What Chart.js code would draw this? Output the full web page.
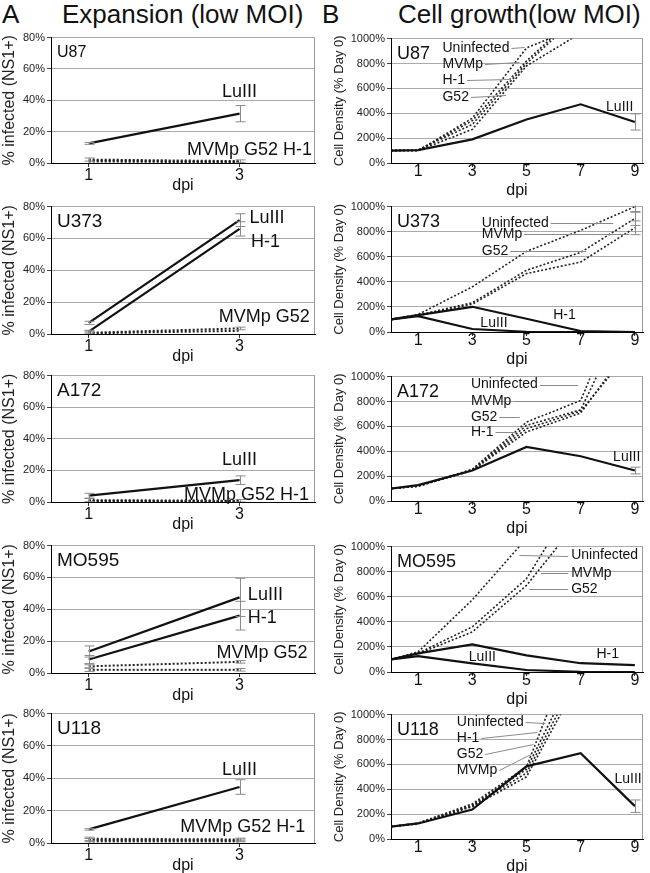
<!DOCTYPE html>
<html>
<head>
<meta charset="utf-8">
<script src="https://cdn.jsdelivr.net/npm/chart.js"></script>
<style>
  body { margin: 0; background: #fff; width: 650px; height: 873px; position: relative; overflow: hidden;
         font-family: "Liberation Sans", Arial, sans-serif; }
  canvas { position: absolute; }
  .head { position: absolute; font-size: 26px; line-height: 26px; color: #111; white-space: nowrap; }
</style>
</head>
<body>
<div class="head" style="left:2px;top:1px">A</div>
<div class="head" style="left:62px;top:1px">Expansion (low MOI)</div>
<div class="head" style="left:322px;top:1px">B</div>
<div class="head" style="left:398px;top:1px">Cell growth(low MOI)</div>
<script>
// x values and tick labels
const infDays = [1, 3];
const growDays = [0, 1, 3, 5, 7, 9];
const infXTicks = [1, 3];
const growXTicks = [1, 3, 5, 7, 9];
const infYTicks = [0, 20, 40, 60, 80];
const growYTicks = [0, 200, 400, 600, 800, 1000];

// A: % infected (NS1+), days 1 and 3
const u87InfLuIII = [12.5, 31.5], u87InfLuIIIErr = [0.6, 5.2];
const u87InfMVMp = [2.2, 1.2], u87InfG52 = [1.6, 0.8], u87InfH1 = [1.0, 0.4];
const u373InfLuIII = [7, 71.5], u373InfLuIIIErr = [1, 4];
const u373InfH1 = [1.5, 66], u373InfH1Err = [0.8, 4.5];
const u373InfMVMp = [0.8, 3.5], u373InfG52 = [0.4, 2];
const a172InfLuIII = [4, 13.8], a172InfLuIIIErr = [1.5, 2.7];
const a172InfMVMp = [1.2, 0.8], a172InfG52 = [0.8, 0.5], a172InfH1 = [0.5, 0.3];
const mo595InfLuIII = [13.5, 47.5], mo595InfLuIIIErr = [3.5, 12];
const mo595InfH1 = [8.5, 36], mo595InfH1Err = [2.5, 9];
const mo595InfMVMp = [4.2, 7], mo595InfG52 = [2, 2];
const u118InfLuIII = [8.4, 34.6], u118InfLuIIIErr = [0.5, 4.5];
const u118InfMVMp = [2.6, 2.2], u118InfG52 = [1.8, 1.6], u118InfH1 = [1.0, 1.0];
const smallErr = [1, 0.8];

// B: cell density (% of day 0), days 0..9
const u87GrowLuIII = [100, 104, 190, 350, 472, 330], u87GrowLuIIIErr = [0, 0, 0, 0, 0, 65];
const u87GrowUninf = [100, 100, 360, 925, 1100, 1280];
const u87GrowMVMp = [100, 100, 340, 820, 1220, 1440];
const u87GrowH1 = [100, 105, 310, 800, 1200, 1400];
const u87GrowG52 = [100, 100, 270, 780, 1044, 1300];

const u373GrowLuIII = [100, 127, 24, 2, 0, 0];
const u373GrowH1 = [100, 135, 201, 106, 8, 0];
const u373GrowUninf = [100, 140, 360, 643, 810, 1000], u373GrowUninfErr = [0, 0, 0, 0, 0, 45];
const u373GrowMVMp = [100, 135, 233, 492, 635, 905], u373GrowMVMpErr = [0, 0, 0, 0, 0, 55];
const u373GrowG52 = [100, 130, 222, 466, 558, 831], u373GrowG52Err = [0, 0, 0, 0, 0, 55];

const a172GrowLuIII = [100, 128, 245, 435, 360, 245], a172GrowLuIIIErr = [0, 0, 0, 0, 0, 27];
const a172GrowUninf = [100, 120, 255, 634, 808, 1850];
const a172GrowMVMp = [100, 122, 250, 608, 733, 1640];
const a172GrowG52 = [100, 118, 248, 581, 723, 1250];
const a172GrowH1 = [100, 120, 245, 555, 707, 1300];

const mo595GrowLuIII = [100, 127, 69, 16, 2, 0];
const mo595GrowH1 = [100, 148, 220, 132, 70, 55];
const mo595GrowUninf = [100, 160, 575, 1065, 1555, 2000];
const mo595GrowMVMp = [100, 150, 360, 744, 1444, 1900];
const mo595GrowG52 = [100, 145, 320, 690, 1230, 1700];

const u118GrowLuIII = [100, 125, 237, 584, 690, 264], u118GrowLuIIIErr = [0, 0, 0, 0, 0, 50];
const u118GrowUninf = [100, 128, 282, 580, 1690, 2500];
const u118GrowH1 = [100, 126, 272, 560, 1440, 2200];
const u118GrowG52 = [100, 124, 266, 530, 1360, 2100];
const u118GrowMVMp = [100, 122, 260, 500, 1300, 2000];

const FONT = '"Liberation Sans", Arial, sans-serif';

// plot area placement (pixels on the page)
const infTop = [37, 206, 375, 545, 713], infBottom = [163, 334, 502, 673, 843];
const growTop = [38, 206, 376, 546, 714], growBottom = [163, 332, 501, 672, 839];

function decoPlugin(p) {
  return {
    id: 'deco',
    beforeDatasetsDraw(chart) {
      const { ctx, chartArea: a } = chart;
      ctx.save();
      ctx.strokeStyle = '#999';
      ctx.lineWidth = 1;
      ctx.beginPath();
      ctx.moveTo(a.right - 0.5, a.top);
      ctx.lineTo(a.right - 0.5, a.bottom);
      ctx.stroke();
      ctx.restore();
    },
    afterDatasetsDraw(chart) {
      const { ctx, chartArea: a, scales: { x, y } } = chart;
      ctx.save();
      ctx.beginPath();
      ctx.rect(a.left, a.top - 1, a.right - a.left, a.bottom - a.top + 1);
      ctx.clip();
      // error bars
      ctx.strokeStyle = '#8a8a8a';
      ctx.lineWidth = 1;
      chart.data.datasets.forEach(ds => {
        if (!ds.err) return;
        ds.data.forEach((pt, i) => {
          const e = ds.err[i];
          if (!e) return;
          const px = Math.round(x.getPixelForValue(pt.x)) + 0.5;
          const y1 = y.getPixelForValue(pt.y + e);
          const y2 = y.getPixelForValue(Math.max(0, pt.y - e));
          ctx.beginPath();
          ctx.moveTo(px, y1); ctx.lineTo(px, y2);
          ctx.moveTo(px - 5, y1); ctx.lineTo(px + 5, y1);
          ctx.moveTo(px - 5, y2); ctx.lineTo(px + 5, y2);
          ctx.stroke();
        });
      });
      ctx.restore();

      ctx.save();
      ctx.textBaseline = 'middle';
      ctx.fillStyle = '#111';
      // panel name
      ctx.font = p.nameSize + 'px ' + FONT;
      ctx.textAlign = 'left';
      ctx.fillText(p.name, a.left + 6, a.top + 15);
      // series labels and leader lines
      ctx.font = p.labelSize + 'px ' + FONT;
      p.labels.forEach(l => {
        const lx = x.getPixelForValue(l.x), ly = y.getPixelForValue(l.y);
        ctx.textAlign = l.align;
        ctx.fillText(l.text, lx, ly);
        if (l.to) {
          const w = ctx.measureText(l.text).width;
          const tx = x.getPixelForValue(l.to[0]), ty = y.getPixelForValue(l.to[1]);
          const sx = tx > lx ? lx + w + 2 : lx - 3;
          ctx.strokeStyle = '#8a8a8a';
          ctx.lineWidth = 1;
          ctx.beginPath();
          ctx.moveTo(sx, Math.round(ly) + 0.5);
          ctx.lineTo(tx, Math.round(ty) + 0.5);
          ctx.stroke();
        }
      });
      ctx.restore();
    }
  };
}

function makeChart(p) {
  const cv = document.createElement('canvas');
  const padTop = 8;
  const h = padTop + (p.bottom - p.top) + p.xh;
  cv.width = p.w; cv.height = h;
  cv.style.left = p.left + 'px';
  cv.style.top = (p.top - padTop) + 'px';
  cv.style.width = p.w + 'px';
  cv.style.height = h + 'px';
  document.body.appendChild(cv);

  new Chart(cv, {
    type: 'line',
    data: {
      datasets: p.series.map(s => ({
        label: s.label,
        data: p.days.map((d, i) => ({ x: d, y: s.values[i] })),
        err: s.err,
        borderColor: s.solid ? '#111' : '#222',
        borderWidth: s.solid ? 2.2 : p.dotWidth,
        borderDash: s.solid ? [] : [2, 2],
        pointRadius: 0,
        tension: 0,
        fill: false
      }))
    },
    options: {
      responsive: false,
      animation: false,
      devicePixelRatio: 1,
      layout: { padding: { top: padTop, right: p.padRight, left: 0, bottom: 0 } },
      plugins: { legend: { display: false }, tooltip: { enabled: false } },
      scales: {
        x: {
          type: 'linear', min: p.xMin, max: p.xMax,
          afterBuildTicks: s => { s.ticks = p.xTicks.map(v => ({ value: v })); },
          afterFit: s => { s.height = p.xh; },
          ticks: { font: { family: FONT, size: 16, lineHeight: 1 }, color: '#111', padding: p.xTickPad,
                   callback: v => String(v) },
          grid: { drawOnChartArea: false, drawTicks: true, tickLength: 4, tickColor: '#333' },
          border: { color: '#000', width: 1 },
          title: { display: true, text: 'dpi', font: { family: FONT, size: 16 }, color: '#111',
                   padding: { top: 0, bottom: 0 } }
        },
        y: {
          min: 0, max: p.yTicks[p.yTicks.length - 1],
          afterBuildTicks: s => { s.ticks = p.yTicks.map(v => ({ value: v })); },
          afterFit: s => { s.width = p.yw; },
          ticks: { font: { family: FONT, size: 11 }, color: '#222', padding: 2, callback: v => v + '%' },
          grid: { color: '#aaa', lineWidth: 1, tickColor: '#444', tickLength: 4 },
          border: { color: '#000', width: 1 },
          title: { display: true, text: p.yTitle, font: { family: FONT, size: p.yTitleSize }, color: '#222',
                   padding: { top: p.yTitlePad, bottom: 0 } }
        }
      }
    },
    plugins: [decoPlugin(p)]
  });
}

function infPanel(r, name, nameSize, series, labels) {
  makeChart({
    left: 0, w: 325, top: infTop[r], bottom: infBottom[r], xh: 32, yw: 51, padRight: 10,
    xMin: 0.5, xMax: 4.0, days: infDays, xTicks: infXTicks, yTicks: infYTicks, xTickPad: 1,
    yTitle: '% infected (NS1+)', yTitleSize: 16, yTitlePad: 0, dotWidth: 2,
    name, nameSize, labelSize: 18, series, labels
  });
}

function growPanel(r, name, series, labels) {
  makeChart({
    left: 325, w: 325, top: growTop[r], bottom: growBottom[r], xh: 37, yw: 66, padRight: 7,
    xMin: 0, xMax: 9.3, days: growDays, xTicks: growXTicks, yTicks: growYTicks, xTickPad: -3,
    yTitle: 'Cell Density (% Day 0)', yTitleSize: 13, yTitlePad: 7, dotWidth: 1.6,
    name, nameSize: 18, labelSize: 14, series, labels
  });
}

// Row 1: U87
infPanel(0, 'U87', 16, [
  { label: 'LuIII', values: u87InfLuIII, err: u87InfLuIIIErr, solid: true },
  { label: 'MVMp', values: u87InfMVMp, err: smallErr },
  { label: 'G52', values: u87InfG52 },
  { label: 'H-1', values: u87InfH1 }
], [
  { text: 'LuIII', x: 3.0, y: 45, align: 'center' },
  { text: 'MVMp G52 H-1', x: 3.96, y: 8.3, align: 'right' }
]);
growPanel(0, 'U87', [
  { label: 'LuIII', values: u87GrowLuIII, err: u87GrowLuIIIErr, solid: true },
  { label: 'Uninfected', values: u87GrowUninf },
  { label: 'MVMp', values: u87GrowMVMp },
  { label: 'H-1', values: u87GrowH1 },
  { label: 'G52', values: u87GrowG52 }
], [
  { text: 'Uninfected', x: 1.9, y: 925, align: 'left', to: [4.93, 930] },
  { text: 'MVMp', x: 1.9, y: 797, align: 'left', to: [4.74, 810] },
  { text: 'H-1', x: 1.9, y: 664, align: 'left', to: [4.43, 677] },
  { text: 'G52', x: 1.9, y: 530, align: 'left', to: [4.25, 544] },
  { text: 'LuIII', x: 8.44, y: 446, align: 'center' }
]);

// Row 2: U373
infPanel(1, 'U373', 19, [
  { label: 'LuIII', values: u373InfLuIII, err: u373InfLuIIIErr, solid: true },
  { label: 'H-1', values: u373InfH1, err: u373InfH1Err, solid: true },
  { label: 'MVMp', values: u373InfMVMp, err: smallErr },
  { label: 'G52', values: u373InfG52 }
], [
  { text: 'LuIII', x: 3.13, y: 73, align: 'left' },
  { text: 'H-1', x: 3.15, y: 57.7, align: 'left' },
  { text: 'MVMp G52', x: 3.93, y: 10.8, align: 'right' }
]);
growPanel(1, 'U373', [
  { label: 'LuIII', values: u373GrowLuIII, solid: true },
  { label: 'H-1', values: u373GrowH1, solid: true },
  { label: 'Uninfected', values: u373GrowUninf, err: u373GrowUninfErr },
  { label: 'MVMp', values: u373GrowMVMp, err: u373GrowMVMpErr },
  { label: 'G52', values: u373GrowG52, err: u373GrowG52Err }
], [
  { text: 'Uninfected', x: 3.35, y: 872, align: 'left', to: [8.2, 872] },
  { text: 'MVMp', x: 3.35, y: 778, align: 'left', to: [8.8, 778] },
  { text: 'G52', x: 3.35, y: 648, align: 'left', to: [7.2, 648] },
  { text: 'LuIII', x: 3.8, y: 71, align: 'center' },
  { text: 'H-1', x: 6.4, y: 135, align: 'center' }
]);

// Row 3: A172
infPanel(2, 'A172', 19, [
  { label: 'LuIII', values: a172InfLuIII, err: a172InfLuIIIErr, solid: true },
  { label: 'MVMp', values: a172InfMVMp, err: smallErr },
  { label: 'G52', values: a172InfG52 },
  { label: 'H-1', values: a172InfH1 }
], [
  { text: 'LuIII', x: 3.0, y: 26.5, align: 'center' },
  { text: 'MVMp G52 H-1', x: 3.92, y: 4.4, align: 'right' }
]);
growPanel(2, 'A172', [
  { label: 'LuIII', values: a172GrowLuIII, err: a172GrowLuIIIErr, solid: true },
  { label: 'Uninfected', values: a172GrowUninf },
  { label: 'MVMp', values: a172GrowMVMp },
  { label: 'G52', values: a172GrowG52 },
  { label: 'H-1', values: a172GrowH1 }
], [
  { text: 'Uninfected', x: 2.95, y: 936, align: 'left', to: [6.9, 936] },
  { text: 'MVMp', x: 2.95, y: 802, align: 'left', to: [6.85, 802] },
  { text: 'G52', x: 2.95, y: 674, align: 'left', to: [4.75, 674] },
  { text: 'H-1', x: 2.95, y: 554, align: 'left', to: [4.55, 554] },
  { text: 'LuIII', x: 8.7, y: 354, align: 'center' }
]);

// Row 4: MO595
infPanel(3, 'MO595', 19, [
  { label: 'LuIII', values: mo595InfLuIII, err: mo595InfLuIIIErr, solid: true },
  { label: 'H-1', values: mo595InfH1, err: mo595InfH1Err, solid: true },
  { label: 'MVMp', values: mo595InfMVMp, err: smallErr },
  { label: 'G52', values: mo595InfG52, err: smallErr }
], [
  { text: 'LuIII', x: 3.11, y: 48.8, align: 'left' },
  { text: 'H-1', x: 3.11, y: 34.8, align: 'left' },
  { text: 'MVMp G52', x: 3.9, y: 12.7, align: 'right' }
]);
growPanel(3, 'MO595', [
  { label: 'LuIII', values: mo595GrowLuIII, solid: true },
  { label: 'H-1', values: mo595GrowH1, solid: true },
  { label: 'Uninfected', values: mo595GrowUninf },
  { label: 'MVMp', values: mo595GrowMVMp },
  { label: 'G52', values: mo595GrowG52 }
], [
  { text: 'Uninfected', x: 6.65, y: 929, align: 'left', to: [4.74, 930] },
  { text: 'MVMp', x: 6.65, y: 786, align: 'left', to: [5.54, 786] },
  { text: 'G52', x: 6.65, y: 662, align: 'left', to: [5.1, 662] },
  { text: 'LuIII', x: 3.37, y: 121, align: 'center' },
  { text: 'H-1', x: 8.0, y: 143, align: 'center' }
]);

// Row 5: U118
infPanel(4, 'U118', 19, [
  { label: 'LuIII', values: u118InfLuIII, err: u118InfLuIIIErr, solid: true },
  { label: 'MVMp', values: u118InfMVMp, err: smallErr },
  { label: 'G52', values: u118InfG52, err: smallErr },
  { label: 'H-1', values: u118InfH1 }
], [
  { text: 'LuIII', x: 3.0, y: 45.3, align: 'center' },
  { text: 'MVMp G52 H-1', x: 3.87, y: 10, align: 'right' }
]);
growPanel(4, 'U118', [
  { label: 'LuIII', values: u118GrowLuIII, err: u118GrowLuIIIErr, solid: true },
  { label: 'Uninfected', values: u118GrowUninf },
  { label: 'H-1', values: u118GrowH1 },
  { label: 'G52', values: u118GrowG52 },
  { label: 'MVMp', values: u118GrowMVMp }
], [
  { text: 'Uninfected', x: 2.43, y: 938, align: 'left', to: [5.7, 935] },
  { text: 'H-1', x: 2.43, y: 814, align: 'left', to: [5.4, 858] },
  { text: 'G52', x: 2.43, y: 686, align: 'left', to: [5.26, 765] },
  { text: 'MVMp', x: 2.43, y: 552, align: 'left', to: [5.17, 685] },
  { text: 'LuIII', x: 8.75, y: 485, align: 'center' }
]);
</script>
</body>
</html>
